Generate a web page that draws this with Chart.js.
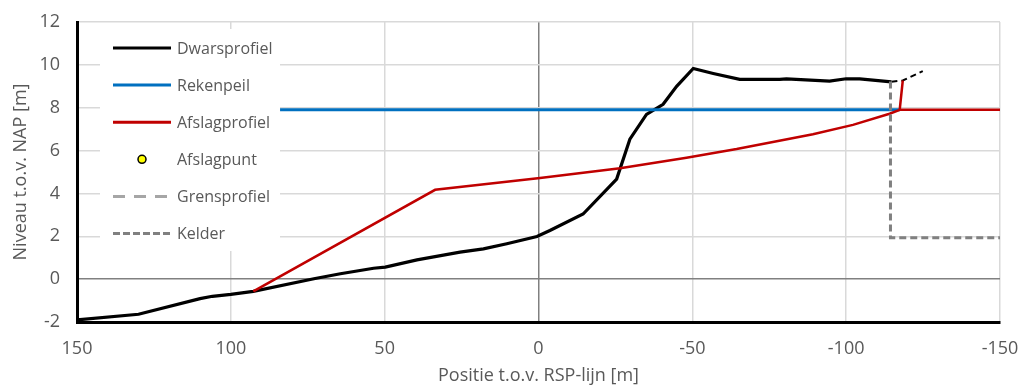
<!DOCTYPE html>
<html>
<head>
<meta charset="utf-8">
<script src="https://cdn.jsdelivr.net/npm/chart.js@4.4.0/dist/chart.umd.min.js"></script>
<style>body{margin:0;background:#fff}</style>
</head>
<body>
<canvas id="chart" width="1021" height="385"></canvas>
<script>
// cross profile (last 2 segments dashed)
const dwarsX = [150, 130, 110, 106, 100, 92.7, 73, 64.4, 53.6, 49.8, 39.5, 25.5, 17.9, 10.3, 0.5, -3.7, -14.5, -25.4, -29.7, -35.1, -40.5, -44.9, -50.3, -56.8, -65.4, -78.4, -80.6, -94.6, -100, -104.4, -114.7, -118.4, -124.9]
const dwarsY = [-1.9, -1.64, -0.91, -0.8, -0.71, -0.57, 0.02, 0.25, 0.51, 0.56, 0.9, 1.26, 1.41, 1.65, 1.99, 2.27, 3.04, 4.67, 6.53, 7.69, 8.16, 9.0, 9.83, 9.6, 9.32, 9.32, 9.35, 9.24, 9.35, 9.35, 9.21, 9.27, 9.71]
const dwarsDashFrom = 30

const rekenX = [84, -117.4]
const rekenY = [7.9, 7.9]

const afslagX = [92.7, 33.6, -0.5, -26.5, -48.1, -64.4, -89.2, -102.2, -114.1, -117.4, -118.4, -117.4, -150]
const afslagY = [-0.57, 4.17, 4.72, 5.18, 5.67, 6.07, 6.76, 7.2, 7.72, 7.9, 9.27, 7.9, 7.9]

const puntX = []
const puntY = []

const grensX = []
const grensY = []

const kelderX = [-114.4, -114.4, -150]
const kelderY = [9.22, 1.93, 1.93]

const xTicks = [150, 100, 50, 0, -50, -100, -150]
const yTicks = [-2, 0, 2, 4, 6, 8, 10, 12]

function pts(xs, ys) {
    return xs.map((x, i) => ({x: x, y: ys[i]}))
}

const FONT = "'Open Sans', sans-serif"
const TXT = '#595959'

// legend drawn on a white box inside the plot, like Excel does
const legendBox = {
    id: 'legendBox',
    afterDraw(chart) {
        const ctx = chart.ctx
        ctx.save()
        ctx.fillStyle = '#fff'
        ctx.fillRect(100, 29, 180, 222)
        chart.data.datasets.forEach((ds, i) => {
            const y = 48 + i * 37.1
            if (ds.showLine === false) {
                ctx.beginPath()
                ctx.arc(142, y, 4, 0, Math.PI * 2)
                ctx.fillStyle = ds.backgroundColor
                ctx.fill()
                ctx.lineWidth = 1.5
                ctx.strokeStyle = ds.borderColor
                ctx.stroke()
            } else {
                ctx.beginPath()
                ctx.setLineDash(ds.legendDash || [])
                ctx.lineWidth = 3
                ctx.strokeStyle = ds.borderColor
                ctx.moveTo(113, y)
                ctx.lineTo(171, y)
                ctx.stroke()
                ctx.setLineDash([])
            }
            ctx.fillStyle = TXT
            ctx.font = "16px " + FONT
            ctx.textBaseline = 'middle'
            ctx.fillText(ds.label, 177, y + 1)
        })
        ctx.restore()
    }
}

new Chart(document.getElementById('chart'), {
    type: 'scatter',
    data: {
        datasets: [
            {
                label: 'Dwarsprofiel',
                data: pts(dwarsX, dwarsY),
                showLine: true, borderColor: '#000000', borderWidth: 3.2, pointRadius: 0,
                order: 6,
                segment: {
                    borderDash: c => c.p0DataIndex >= dwarsDashFrom ? [6, 4] : undefined,
                    borderWidth: c => c.p0DataIndex >= dwarsDashFrom ? 2 : undefined
                }
            },
            {
                label: 'Rekenpeil',
                data: pts(rekenX, rekenY),
                showLine: true, borderColor: '#0070c0', borderWidth: 3, pointRadius: 0, order: 5
            },
            {
                label: 'Afslagprofiel',
                data: pts(afslagX, afslagY),
                showLine: true, borderColor: '#c00000', borderWidth: 2.5, pointRadius: 0, order: 4
            },
            {
                label: 'Afslagpunt',
                data: pts(puntX, puntY),
                showLine: false, backgroundColor: '#ffff00', borderColor: '#000000', pointRadius: 4, order: 3
            },
            {
                label: 'Grensprofiel',
                data: pts(grensX, grensY),
                showLine: true, borderColor: '#a6a6a6', borderWidth: 3, borderDash: [12, 8], legendDash: [12, 9], pointRadius: 0, order: 2
            },
            {
                label: 'Kelder',
                data: pts(kelderX, kelderY),
                showLine: true, borderColor: '#808080', borderWidth: 3, borderDash: [7, 4], legendDash: [7, 3], pointRadius: 0, order: 1
            }
        ]
    },
    options: {
        responsive: false,
        animation: false,
        layout: {padding: {left: 0, top: 22, right: 21, bottom: 0}},
        plugins: {legend: {display: false}, tooltip: {enabled: false}},
        scales: {
            x: {
                type: 'linear',
                reverse: true,
                min: -150, max: 150,
                afterBuildTicks: s => { s.ticks = xTicks.map(v => ({value: v})) },
                afterFit: s => { s.height = 63; s.paddingLeft = 0; s.paddingRight = 0 },
                border: {color: '#000000', width: 3},
                grid: {
                    drawTicks: false,
                    color: c => c.tick && c.tick.value === 0 ? '#808080' : '#d9d9d9',
                    lineWidth: 1.5
                },
                ticks: {color: TXT, font: {family: FONT, size: 18}, padding: 16},
                title: {display: true, text: 'Positie t.o.v. RSP-lijn [m]', color: TXT,
                        font: {family: FONT, size: 18, lineHeight: 1}, padding: {top: 0, bottom: 0}}
            },
            y: {
                type: 'linear',
                min: -2, max: 12,
                afterBuildTicks: s => { s.ticks = yTicks.map(v => ({value: v})) },
                afterFit: s => { s.width = 77; s.paddingTop = 0; s.paddingBottom = 0 },
                border: {color: '#000000', width: 3},
                grid: {
                    drawTicks: false,
                    color: c => c.tick && c.tick.value === 0 ? '#808080' : '#d9d9d9',
                    lineWidth: 1.5
                },
                ticks: {color: TXT, font: {family: FONT, size: 18}, padding: 17},
                title: {display: true, text: 'Niveau t.o.v. NAP [m]', color: TXT,
                        font: {family: FONT, size: 18, lineHeight: 1.2}, padding: {top: 10, bottom: 4}}
            }
        }
    },
    plugins: [legendBox]
})
</script>
</body>
</html>
